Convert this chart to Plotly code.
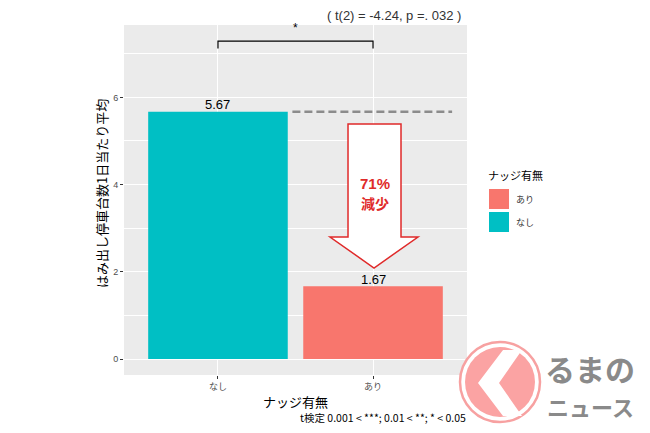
import plotly.graph_objects as go

# ---- data ----
categories = ["なし", "あり"]
values = [5.67, 1.67]
value_labels = ["5.67", "1.67"]
bar_colors = ["#00BFC4", "#F8766D"]
legend_labels = ["あり", "なし"]
legend_colors = ["#F8766D", "#00BFC4"]
y_ticks = [0, 2, 4, 6]
stat_text = "( t(2) = -4.24, p =. 032 )"
caption_text = "t検定 0.001 < ***; 0.01 < **; * < 0.05"
reduction_lines = ["71%", "減少"]
x_title = "ナッジ有無"
y_title = "はみ出し停車台数1日当たり平均"
legend_title = "ナッジ有無"

# page has an 8px body margin: size the figure so that it fits the 650x433 window
OFF = 8
W, H = 650 - 2 * OFF, 433 - 2 * OFF
L, R, T, B = 124, 467, 25, 375  # panel edges in window px


def px(x):
    return (x - L) / (R - L)


def py(y):
    return (B - y) / (B - T)


FONT = "Liberation Sans, Noto Sans CJK JP, sans-serif"
JFONT = "Noto Sans CJK JP, Liberation Sans, sans-serif"

fig = go.Figure()
fig.add_trace(go.Bar(
    x=categories, y=values, width=0.9,
    marker=dict(color=bar_colors, line=dict(width=0)),
    showlegend=False, hoverinfo="x+y",
))

shapes = []
ann = []

# value labels above bars
for c, v, lab in zip(categories, values, value_labels):
    ann.append(dict(xref="x", yref="y", x=c, y=v, text=lab, showarrow=False,
                    xanchor="center", yanchor="middle", yshift=7,
                    font=dict(size=13, color="black", family=FONT)))


def note(x, y, text, size, color="black", family=JFONT, xanchor="center", angle=0):
    ann.append(dict(xref="paper", yref="paper", x=px(x), y=py(y), text=text, showarrow=False,
                    xanchor=xanchor, yanchor="middle", textangle=angle, borderpad=0,
                    font=dict(size=size, color=color, family=family)))


# dashed reference line at なし level
shapes.append(dict(type="line", xref="x", yref="y", x0=0.48, x1=1.51,
                   y0=values[0], y1=values[0],
                   line=dict(color="#8c8c8c", width=2.5, dash="8px,4px")))

# significance bracket
top = 7.29
shapes.append(dict(type="path", xref="x", yref="y",
                   path=f"M 0,{top-0.17} L 0,{top} L 1,{top} L 1,{top-0.17}",
                   line=dict(color="black", width=1.2)))
ann.append(dict(xref="x", yref="y", x=0.5, y=top + 0.1, text="*", showarrow=False,
                xanchor="center", yanchor="bottom",
                font=dict(size=12, color="black", family=FONT)))

# big down arrow (pixel-based)
pts = [(348, 124), (401, 124), (401, 237), (418, 237), (374, 268), (330, 237), (348, 237)]
path = "M " + " L ".join(f"{px(a):.4f},{py(b):.4f}" for a, b in pts) + " Z"
shapes.append(dict(type="path", xref="paper", yref="paper", path=path,
                   fillcolor="white", line=dict(color="#e02a2a", width=1.5)))
note(375, 183, "<b>" + reduction_lines[0] + "</b>", 15, color="#e02a2a", family=FONT)
note(375, 203, "<b>" + reduction_lines[1] + "</b>", 14, color="#e02a2a")

# top stat text
note(462, 15, stat_text, 13, color="#333333", family=FONT, xanchor="right")

# axis titles
note(295, 401, x_title, 13)
note(101, 194, y_title, 13, angle=-90)

# caption
note(467, 417.5, caption_text, 10.5, xanchor="right")

# manual legend
note(487, 175, legend_title, 11, xanchor="left")
for i, (lab, col) in enumerate(zip(legend_labels, legend_colors)):
    y0 = 189 + i * 23
    shapes.append(dict(type="rect", xref="paper", yref="paper", x0=px(489), x1=px(509),
                       y0=py(y0), y1=py(y0 + 20), fillcolor=col, line=dict(width=0)))
    note(515, y0 + 10, lab, 9, color="#333333", xanchor="left")

# logo watermark
cx, cy = 500, 382
shapes.append(dict(type="circle", xref="paper", yref="paper", x0=px(cx - 40), x1=px(cx + 40),
                   y0=py(cy + 40), y1=py(cy - 40), fillcolor="white", line=dict(color="#f7a1a1", width=2.5)))
shapes.append(dict(type="circle", xref="paper", yref="paper", x0=px(cx - 35), x1=px(cx + 35),
                   y0=py(cy + 35), y1=py(cy - 35), fillcolor="#fba3a3", line=dict(width=0)))
chev = [(478, 383), (503, 350), (522, 350), (499, 383), (522, 416), (503, 416)]
cpath = "M " + " L ".join(f"{px(a):.4f},{py(b):.4f}" for a, b in chev) + " Z"
shapes.append(dict(type="path", xref="paper", yref="paper", path=cpath, fillcolor="white", line=dict(width=0)))
note(590, 368, "<b>るまの</b>", 30, color="#8a8a8a")
note(590, 406, "<b>ニュース</b>", 22, color="#8a8a8a")

fig.update_layout(
    width=W, height=H,
    margin=dict(l=L - OFF, r=W - (R - OFF), t=T - OFF, b=H - (B - OFF), autoexpand=False),
    paper_bgcolor="white", plot_bgcolor="#EBEBEB",
    shapes=shapes, annotations=ann, showlegend=False,
)
fig.update_xaxes(
    type="category", categoryorder="array", categoryarray=categories,
    range=[-0.606, 1.606], showgrid=True, gridcolor="white", gridwidth=1.2,
    ticks="outside", ticklen=3, tickcolor="#333333", tickwidth=1,
    tickfont=dict(size=9, color="#4d4d4d", family=JFONT), showline=False, zeroline=False,
)
fig.update_yaxes(
    range=[-0.367, 7.66], tickvals=y_ticks, showgrid=True, gridcolor="white", gridwidth=1.2,
    ticks="outside", ticklen=3, tickcolor="#333333", tickwidth=1,
    tickfont=dict(size=9, color="#4d4d4d", family=FONT), zeroline=False, showline=False,
    minor=dict(tickvals=[1, 3, 5, 7], showgrid=True, gridcolor="white", gridwidth=0.6, ticks=""),
)

fig.write_html("out.html")
